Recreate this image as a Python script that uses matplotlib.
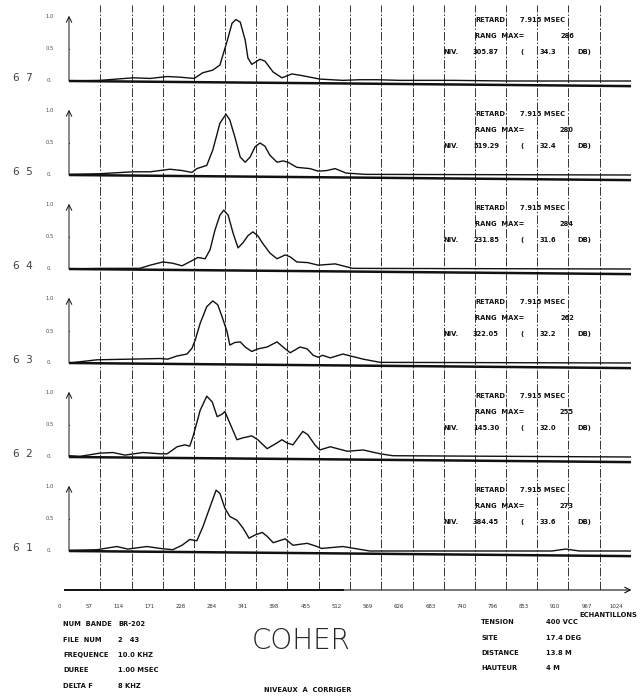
import numpy as np
import matplotlib.pyplot as plt

# =====================================
# Daten (aus dem Plotter-Ausdruck abgelesen)
# =====================================
channels = ["6 7", "6 5", "6 4", "6 3", "6 2", "6 1"]
rang_max = [286, 280, 284, 262, 255, 273]
niv = ["305.87", "519.29", "231.85", "322.05", "145.30", "384.45"]
db = ["34.3", "32.4", "31.6", "32.2", "32.0", "33.6"]
retard = "7.915"

# echantillons / coherence par voie
s67 = [0, 56, 87, 117, 148, 179, 202, 228, 244, 262, 275, 288, 297, 304, 312, 321, 326, 333,
       348, 357, 372, 388, 406, 421, 439, 457, 499, 530, 561, 603, 700, 800, 1024]
c67 = [0.0, 0.01, 0.03, 0.05, 0.04, 0.07, 0.06, 0.04, 0.13, 0.17, 0.25, 0.62, 0.9, 0.96, 0.92, 0.64, 0.36, 0.26,
       0.34, 0.31, 0.14, 0.05, 0.11, 0.09, 0.06, 0.03, 0.01, 0.02, 0.02, 0.01, 0.01, 0.0, 0.0]

s65 = [0, 56, 117, 148, 184, 206, 224, 233, 251, 262, 275, 286, 293, 302, 312, 321, 330, 339,
       348, 357, 366, 379, 390, 399, 415, 439, 454, 470, 485, 505, 540, 1024]
c65 = [0.01, 0.02, 0.05, 0.05, 0.09, 0.07, 0.04, 0.1, 0.15, 0.39, 0.81, 0.95, 0.86, 0.6, 0.28, 0.2, 0.28, 0.44,
       0.5, 0.45, 0.31, 0.2, 0.22, 0.2, 0.12, 0.1, 0.06, 0.07, 0.1, 0.03, 0.01, 0.0]

s64 = [0, 56, 129, 148, 171, 189, 206, 224, 235, 248, 257, 266, 275, 282, 290, 299, 308, 317,
       326, 335, 344, 353, 366, 379, 394, 403, 415, 435, 454, 470, 485, 517, 1024]
c64 = [0.0, 0.01, 0.01, 0.06, 0.11, 0.09, 0.05, 0.13, 0.18, 0.16, 0.3, 0.61, 0.84, 0.92, 0.84, 0.56, 0.33, 0.41,
       0.52, 0.58, 0.52, 0.4, 0.25, 0.16, 0.22, 0.19, 0.11, 0.1, 0.06, 0.07, 0.08, 0.01, 0.0]

s63 = [0, 51, 111, 166, 180, 197, 215, 224, 230, 239, 251, 262, 271, 279, 288, 293, 302, 312,
       321, 333, 344, 361, 379, 390, 403, 421, 434, 445, 454, 462, 476, 499, 536, 567, 1024]
c63 = [0.0, 0.05, 0.06, 0.07, 0.06, 0.11, 0.14, 0.23, 0.36, 0.62, 0.88, 0.97, 0.91, 0.72, 0.49, 0.28, 0.32, 0.33,
       0.25, 0.18, 0.22, 0.25, 0.33, 0.25, 0.16, 0.25, 0.22, 0.12, 0.09, 0.12, 0.08, 0.14, 0.06, 0.01, 0.0]

s62 = [0, 20, 56, 80, 102, 135, 166, 179, 197, 211, 220, 226, 239, 251, 261, 270, 279, 284, 293,
       306, 317, 333, 344, 361, 379, 388, 397, 408, 426, 435, 448, 457, 476, 507, 536, 567, 590, 1024]
c62 = [0.02, 0.01, 0.06, 0.07, 0.03, 0.07, 0.05, 0.05, 0.16, 0.19, 0.17, 0.32, 0.73, 0.95, 0.86, 0.63, 0.67, 0.71, 0.53,
       0.27, 0.3, 0.33, 0.27, 0.13, 0.22, 0.27, 0.22, 0.19, 0.4, 0.35, 0.19, 0.11, 0.16, 0.09, 0.11, 0.05, 0.02, 0.0]

s61 = [0, 51, 87, 107, 142, 166, 189, 206, 220, 233, 244, 257, 268, 275, 284, 293, 306, 317,
       328, 339, 352, 361, 372, 394, 408, 434, 452, 460, 499, 548, 880, 905, 930, 1024]
c61 = [0.01, 0.02, 0.07, 0.03, 0.07, 0.04, 0.02, 0.09, 0.18, 0.16, 0.38, 0.69, 0.95, 0.9, 0.67, 0.54, 0.48, 0.36,
       0.2, 0.25, 0.29, 0.23, 0.13, 0.19, 0.09, 0.12, 0.07, 0.04, 0.07, 0.0, 0.0, 0.03, 0.0, 0.0]

samples = [s67, s65, s64, s63, s62, s61]
coher = [c67, c65, c64, c63, c62, c61]

xticks = [0, 57, 114, 171, 228, 284, 341, 398, 455, 512, 569, 626, 683, 740, 796, 853, 910, 967, 1024]

info_left = [("NUM  BANDE", "BR-202"), ("FILE  NUM", "2   43"), ("FREQUENCE", "10.0 KHZ"),
             ("DUREE", "1.00 MSEC"), ("DELTA F", "8 KHZ")]
info_right = [("TENSION", "400 VCC"), ("SITE", "17.4 DEG"), ("DISTANCE", "13.8 M"), ("HAUTEUR", "4 M")]

# =====================================
# Geometrie (Pixel des Ausdrucks)
# =====================================
W, H = 642, 698
X0, X1 = 69, 631          # x = 0 ... 1024
BASE = [81, 175, 269, 363, 457, 551]
PX_PER_UNIT = 64
XAXIS_Y = 590


def fx(px):
    return px / W


def fy(py):
    return 1 - py / H


fig = plt.figure(figsize=(W / 100, H / 100), dpi=100)
fig.patch.set_facecolor("white")

ink = "#111111"
small = dict(family="DejaVu Sans", fontsize=4.9, fontweight="bold", color=ink)

# --- Raster + x-Achse ---
axg = fig.add_axes([fx(X0), fy(XAXIS_Y), fx(X1) - fx(X0), fy(5) - fy(XAXIS_Y)])
axg.set_xlim(0, 1024)
axg.set_ylim(0, 1)
axg.axis("off")
for t in xticks[1:]:
    axg.plot([t, t], [0, 1], color="0.2", lw=0.7, ls=(0, (9, 2, 1.5, 2)))
axg.plot([-8, 500], [0, 0], color=ink, lw=1.4, clip_on=False)
axg.annotate("", xy=(1030, 0), xytext=(480, 0),
             arrowprops=dict(arrowstyle="->", lw=0.8, color=ink), annotation_clip=False)
for t in xticks:
    axg.annotate(str(t), xy=(t, 0), xytext=(-6, -12), textcoords="offset points",
                 ha="right", va="center", family="DejaVu Sans", fontsize=3.9, color="0.2",
                 annotation_clip=False)
fig.text(fx(637), fy(615), "ECHANTILLONS", ha="right", va="center", **small)

# --- Panels ---
for i, b in enumerate(BASE):
    ax = fig.add_axes([fx(X0), fy(b + 12), fx(X1) - fx(X0), fy(b - 82) - fy(b + 12)])
    ax.set_xlim(0, 1024)
    ax.set_ylim(-12 / PX_PER_UNIT, 82 / PX_PER_UNIT)
    ax.axis("off")
    ax.patch.set_alpha(0)

    # Nulllinie (leicht abfallend wie im Ausdruck)
    ax.plot([0, 520, 1024], [0, -0.04, -0.08], color=ink, lw=1.8, solid_capstyle="butt")
    ax.plot(samples[i], coher[i], color=ink, lw=1.0)

    # y-Achse mit Pfeil
    ax.annotate("", xy=(0, 1.02), xytext=(0, 0),
                arrowprops=dict(arrowstyle="->", lw=0.7, color=ink, shrinkA=0, shrinkB=0))
    ax.plot([-4, 0], [0.5, 0.5], color=ink, lw=0.6)

    for lab, dy, xx in (("1.0", 64, 50), ("0.5", 32, 50), ("0.", 1, 49)):
        fig.text(fx(xx), fy(b - dy), lab, ha="center", va="center", family="DejaVu Sans",
                 fontsize=3.8, color="0.3")
    fig.text(fx(23), fy(b - 3), channels[i].replace(" ", "  "), ha="center", va="center",
             family="DejaVu Sans", fontsize=7.5, color="0.25")

    # Kennwerte
    fig.text(fx(475), fy(b - 61), "RETARD", ha="left", va="center", **small)
    fig.text(fx(520), fy(b - 61), retard + " MSEC", ha="left", va="center", **small)
    fig.text(fx(475), fy(b - 45), "RANG  MAX=", ha="left", va="center", **small)
    fig.text(fx(574), fy(b - 45), str(rang_max[i]), ha="right", va="center", **small)
    fig.text(fx(443), fy(b - 29), "NIV.", ha="left", va="center", **small)
    fig.text(fx(473), fy(b - 29), niv[i], ha="left", va="center", **small)
    fig.text(fx(520), fy(b - 29), "(", ha="left", va="center", **small)
    fig.text(fx(540), fy(b - 29), db[i], ha="left", va="center", **small)
    fig.text(fx(577), fy(b - 29), "DB)", ha="left", va="center", **small)

# =====================================
# Kopfdaten unten
# =====================================
for k, (lab, val) in enumerate(info_left):
    y = 624 + 15.5 * k
    fig.text(fx(63), fy(y), lab, ha="left", va="center", **small)
    fig.text(fx(118), fy(y), val, ha="left", va="center", **small)

for k, (lab, val) in enumerate(info_right):
    y = 622 + 15.5 * k
    fig.text(fx(481), fy(y), lab, ha="left", va="center", **small)
    fig.text(fx(546), fy(y), val, ha="left", va="center", **small)

fig.text(fx(301), fy(641), "COHER", ha="center", va="center", family="DejaVu Sans",
         fontweight="light", fontsize=20, color="0.15")
fig.text(fx(308), fy(690), "NIVEAUX  A  CORRIGER", ha="center", va="center", **small)

fig.savefig("out.png", dpi=100, facecolor="white")
